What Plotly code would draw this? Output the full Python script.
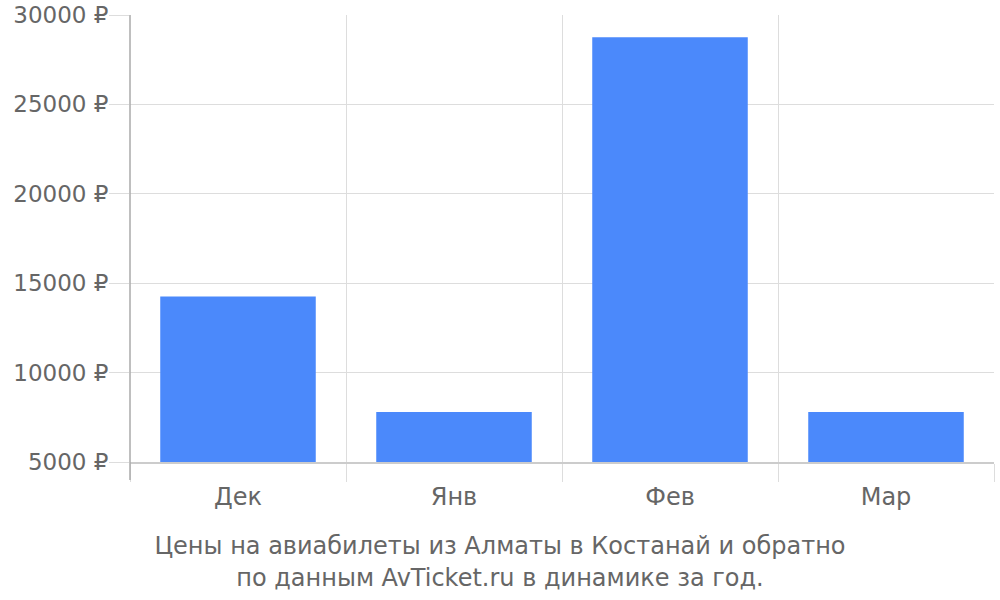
import plotly.graph_objs as go

months = ["Дек", "Янв", "Фев", "Мар"]
prices = [14250, 7800, 28750, 7800]
ytickvals = [5000, 10000, 15000, 20000, 25000, 30000]
yticktext = [f"{v} ₽" for v in ytickvals]
title_text = "Цены на авиабилеты из Алматы в Костанай и обратно<br>по данным AvTicket.ru в динамике за год."

grey_text = "#666666"

fig = go.Figure()
fig.add_trace(go.Bar(x=months, y=prices, marker=dict(color="#4b89fb", line=dict(width=0)),
                     showlegend=False))

# left axis line running down through the tick area
fig.add_shape(type="line", xref="paper", yref="paper", x0=0, x1=0, y0=-0.04, y1=1,
              line=dict(color="#aaaaaa", width=1.5))

fig.update_layout(
    width=1000, height=600,
    paper_bgcolor="white", plot_bgcolor="white",
    margin=dict(l=130, r=6, t=15, b=138, autoexpand=False),
    bargap=0.28,
    font=dict(family="DejaVu Sans", size=24, color=grey_text),
    title=dict(text=title_text, xref="container", yref="container", x=0.5, y=0.076,
               xanchor="center", yanchor="top", font=dict(size=24, color=grey_text)),
    xaxis=dict(
        automargin=False,
        tickson="boundaries", ticks="outside", ticklen=18, tickcolor="#dddddd",
        ticklabelstandoff=12,
        showgrid=True, gridcolor="#dddddd", gridwidth=1,
        showline=True, linecolor="#cccccc", linewidth=1.5,
        tickfont=dict(size=24, color=grey_text),
    ),
    yaxis=dict(
        automargin=False,
        range=[5000, 30000], tickmode="array", tickvals=ytickvals, ticktext=yticktext,
        ticks="outside", ticklen=20, tickcolor="#dddddd",
        ticklabelstandoff=-4, ticklabeloverflow="allow",
        showgrid=True, gridcolor="#dddddd", gridwidth=1,
        showline=False, zeroline=False,
        tickfont=dict(size=23, color=grey_text),
    ),
)

# page has a default body margin; drop it so the figure sits at the window corner
fig.write_html("out.html", config={"displayModeBar": False},
               post_script="document.body.style.margin = '0';")
